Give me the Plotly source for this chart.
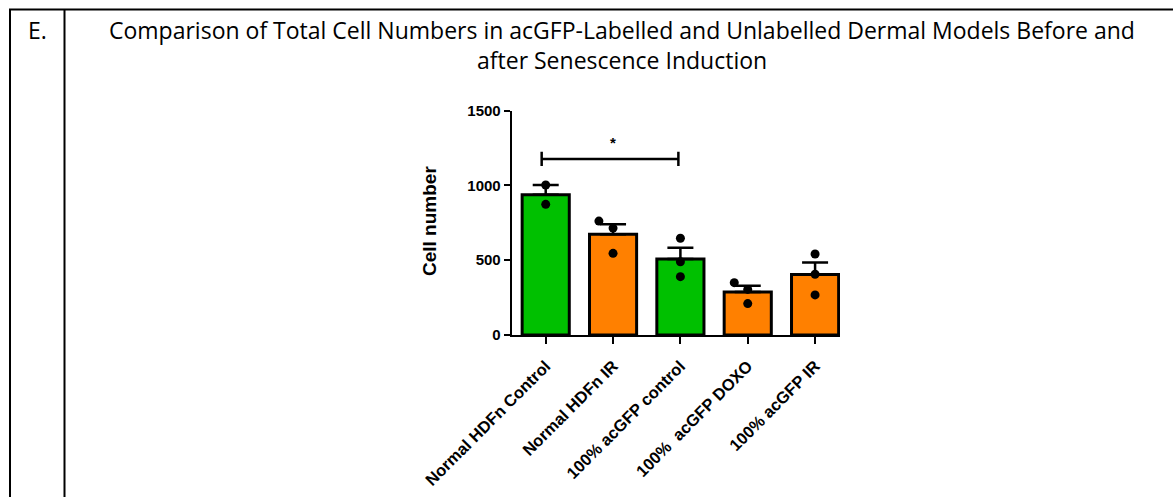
import numpy as np
import plotly.graph_objects as go

# Groups and individual replicate counts
categories = ["Normal HDFn Control", "Normal HDFn IR", "100% acGFP control",
              "100%  acGFP DOXO", "100% acGFP IR"]
replicates = [
    [1003, 874],
    [762, 715, 546],
    [647, 490, 390],
    [350, 305, 210],
    [542, 406, 268],
]
bar_colors = ["#00C000", "#FF8000", "#00C000", "#FF8000", "#FF8000"]
y_ticks = [0, 500, 1000, 1500]
sig_pair = (0, 2)
sig_label = "*"

# Horizontal nudges so overlapping dots stay visible
dot_offsets = [
    [0, 0],
    [-0.21, 0, 0],
    [0, 0, 0],
    [-0.2, 0, 0],
    [0, 0, 0],
]

means = [float(np.mean(r)) for r in replicates]
sems = [float(np.std(r, ddof=1) / np.sqrt(len(r))) for r in replicates]
xpos = list(range(len(categories)))

W, H = 1173, 497

fig = go.Figure()
fig.add_trace(go.Bar(
    x=xpos, y=means, width=0.70,
    marker=dict(color=bar_colors, line=dict(color="black", width=3)),
    error_y=dict(type="data", symmetric=False, array=sems,
                 arrayminus=[0] * len(sems), color="black",
                 thickness=2.5, width=13),
    showlegend=False, hoverinfo="skip",
))

dx, dy = [], []
for i, (vals, offs) in enumerate(zip(replicates, dot_offsets)):
    for v, o in zip(vals, offs):
        dx.append(i + o)
        dy.append(v)
fig.add_trace(go.Scatter(
    x=dx, y=dy, mode="markers",
    marker=dict(color="black", size=9),
    showlegend=False, hoverinfo="skip",
))

bold = dict(family="Liberation Sans, Arial, sans-serif", color="black", weight="bold")

fig.update_layout(
    width=W, height=H,
    margin=dict(l=0, r=0, t=0, b=0, pad=0, autoexpand=False),
    showlegend=False,
    paper_bgcolor="white", plot_bgcolor="white",
    xaxis=dict(
        domain=[511.7 / W, 840 / W], range=[-0.505, 4.37],
        tickvals=xpos, ticktext=categories, tickangle=-45,
        tickfont=dict(size=16.5, **bold), automargin=False,
        ticklabelstandoff=6,
        showline=True, linecolor="black", linewidth=2,
        ticks="outside", ticklen=7, tickwidth=2, tickcolor="black",
        showgrid=False, zeroline=False, fixedrange=True,
    ),
    yaxis=dict(
        domain=[1 - 335 / H, 1 - 110.7 / H], range=[0, 1500],
        tickvals=y_ticks, tickfont=dict(size=15, **bold), automargin=False,
        showline=True, linecolor="black", linewidth=2,
        ticks="outside", ticklen=6, tickwidth=2, tickcolor="black",
        showgrid=False, zeroline=False, fixedrange=True,
    ),
)

# y-axis title
fig.add_annotation(
    x=429 / W, y=1 - 221 / H, xref="paper", yref="paper",
    text="Cell number", textangle=-90, showarrow=False,
    font=dict(size=19, **bold), xanchor="center", yanchor="middle",
)

# significance bracket between the two control groups
a, b = sig_pair
y_bar, y_lo, y_hi = 1177, 1130, 1226
line = dict(color="black", width=2.5)
fig.add_shape(type="line", xref="x", yref="y", x0=a - 0.06, x1=b - 0.03,
              y0=y_bar, y1=y_bar, line=line)
fig.add_shape(type="line", xref="x", yref="y", x0=a - 0.06, x1=a - 0.06,
              y0=y_lo, y1=y_hi, line=line)
fig.add_shape(type="line", xref="x", yref="y", x0=b - 0.03, x1=b - 0.03,
              y0=y_lo, y1=y_hi, line=line)
fig.add_annotation(x=(a + b) / 2, y=1290, xref="x", yref="y", text=sig_label,
                   showarrow=False, font=dict(size=15, **bold),
                   xanchor="center", yanchor="middle")

# table frame around the panel
frame = dict(color="black", width=2)
fig.add_shape(type="line", xref="paper", yref="paper", x0=9 / W, x1=1,
              y0=1 - 9.5 / H, y1=1 - 9.5 / H, line=frame)
fig.add_shape(type="line", xref="paper", yref="paper", x0=10 / W, x1=10 / W,
              y0=0, y1=1 - 9.5 / H, line=frame)
fig.add_shape(type="line", xref="paper", yref="paper", x0=64.5 / W, x1=64.5 / W,
              y0=0, y1=1 - 9.5 / H, line=frame)

head = dict(family="Open Sans, sans-serif", color="black", size=23)
fig.add_annotation(x=37 / W, y=1 - 30 / H, xref="paper", yref="paper",
                   text="E.", showarrow=False, font=head,
                   xanchor="center", yanchor="middle")
fig.add_annotation(x=621.5 / W, y=1 - 29.5 / H, xref="paper", yref="paper",
                   text="Comparison of Total Cell Numbers in acGFP-Labelled and "
                        "Unlabelled Dermal Models Before and",
                   showarrow=False, font=head, xanchor="center", yanchor="middle")
fig.add_annotation(x=621.5 / W, y=1 - 60.5 / H, xref="paper", yref="paper",
                   text="after Senescence Induction",
                   showarrow=False, font=head, xanchor="center", yanchor="middle")

fig.write_html("out.html")
